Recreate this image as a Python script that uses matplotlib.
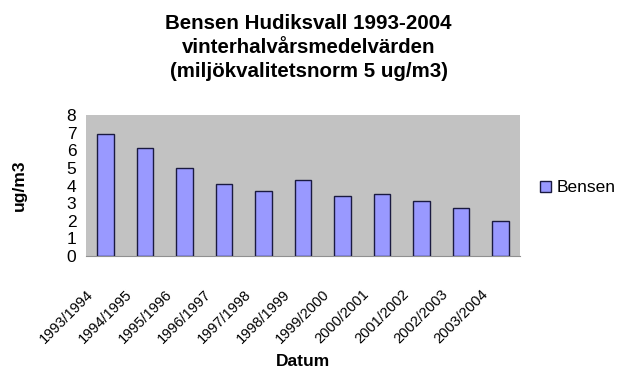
import matplotlib
matplotlib.use("Agg")
import matplotlib.pyplot as plt
from matplotlib.transforms import ScaledTranslation

categories = ["1993/1994", "1994/1995", "1995/1996", "1996/1997", "1997/1998",
              "1998/1999", "1999/2000", "2000/2001", "2001/2002", "2002/2003", "2003/2004"]
bensen = [6.9, 6.1, 5.0, 4.1, 3.7, 4.3, 3.4, 3.5, 3.1, 2.7, 2.0]
yticks = [0, 1, 2, 3, 4, 5, 6, 7, 8]

plt.rcParams['font.family'] = ['Liberation Sans', 'DejaVu Sans']

fig = plt.figure(figsize=(6.21, 3.78), dpi=100)
fig.patch.set_facecolor('white')
ax = fig.add_axes([86/621, 1-256/378, (520-86)/621, (256-115)/378])
ax.set_facecolor('#c2c2c2')

x = list(range(len(categories)))
bars = ax.bar(x, bensen, width=0.42, color='#9999ff', edgecolor='#1a1a40',
              linewidth=1.0, label='Bensen', zorder=3)

ax.set_xlim(-0.5, len(categories) - 0.5)
ax.set_ylim(0, 8)
ax.set_yticks(yticks)
ax.set_yticklabels([str(t) for t in yticks], fontsize=12.5)
ax.set_xticks(x)
ax.set_xticklabels(categories, rotation=45, ha='right', va='center',
                   rotation_mode='anchor', fontsize=10.5)
ax.tick_params(axis='y', length=0, pad=7)
ax.tick_params(axis='x', length=0, pad=0)
off = ScaledTranslation(-15/100, -36/100, fig.dpi_scale_trans)
for lab in ax.get_xticklabels():
    lab.set_transform(lab.get_transform() + off)

for s in ['top', 'right', 'left']:
    ax.spines[s].set_visible(False)
ax.spines['bottom'].set_color('#909090')

ax.set_ylabel('ug/m3', fontsize=12.5, fontweight='bold')
ax.yaxis.set_label_coords(-(86-19)/434, 0.5)
ax.set_xlabel('Datum', fontsize=12.5, fontweight='bold')
ax.xaxis.set_label_coords(0.5, -(362-256)/141)
ax.xaxis.label.set_va('center')
ax.yaxis.label.set_va('center')

fig.text(0.497, 1-14/378, 'Bensen Hudiksvall 1993-2004\nvinterhalvårsmedelvärden\n(miljökvalitetsnorm 5 ug/m3)',
         ha='center', va='top', fontsize=14.8, fontweight='bold', linespacing=1.32)

fig.legend(handles=[bars], labels=['Bensen'], loc='center left',
           bbox_to_anchor=(540/621, 1-188/378), frameon=False, fontsize=12.5,
           handlelength=0.65, handleheight=0.65, handletextpad=0.3,
           borderpad=0, borderaxespad=0)

fig.savefig('out.png', dpi=100, facecolor='white')
